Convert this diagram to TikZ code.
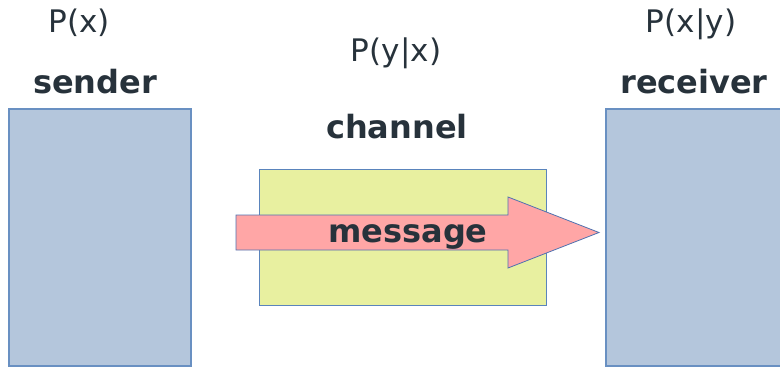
\documentclass[tikz,border=0pt]{standalone}
\usepackage{fontspec}
\setmainfont{DejaVu Sans}
\usetikzlibrary{positioning}
\definecolor{partyfill}{HTML}{B4C6DC}
\definecolor{partyline}{HTML}{6990C2}
\definecolor{chanfill}{HTML}{E8F0A0}
\definecolor{chanline}{HTML}{5A84BC}
\definecolor{msgfill}{HTML}{FFA6A6}
\definecolor{msgline}{HTML}{5072B0}
\definecolor{txtgray}{HTML}{27323B}
\begin{document}
\begin{tikzpicture}[x=0.75pt,y=-0.75pt,
  lbl/.style={text=txtgray,font=\fontsize{23.3}{28}\selectfont,anchor=base,inner sep=0pt},
  ttl/.style={lbl,font=\fontsize{24}{28}\selectfont\bfseries},
  party/.style={fill=partyfill,draw=partyline,line width=0.9pt},
  chan/.style={fill=chanfill,draw=chanline,line width=0.6pt},
  msgarrow/.style={fill=msgfill,draw=msgline,line width=0.6pt}]
\useasboundingbox (0,0) rectangle (780,367);
\draw[party] (9,109) rectangle (191,366);
\draw[party] (606,109) rectangle (800,366);
\draw[chan] (259,169) rectangle (546,305);
\draw[msgarrow] (236,215) -- (508,215) -- (508,197) -- (599,232.5) -- (508,268) -- (508,250) -- (236,250) -- cycle;
\node[lbl] (px) at (79,33) {P(x)};
\node[ttl] (sender) at (95,94) {sender};
\node[lbl] (pyx) at (396,62) {P(y|x)};
\node[ttl] (channel) at (397,138) {channel};
\node[lbl] (pxy) at (691,33) {P(x|y)};
\node[ttl] (receiver) at (694,94) {receiver};
\node[ttl] (message) at (408,242) {message};
\end{tikzpicture}
\end{document}
